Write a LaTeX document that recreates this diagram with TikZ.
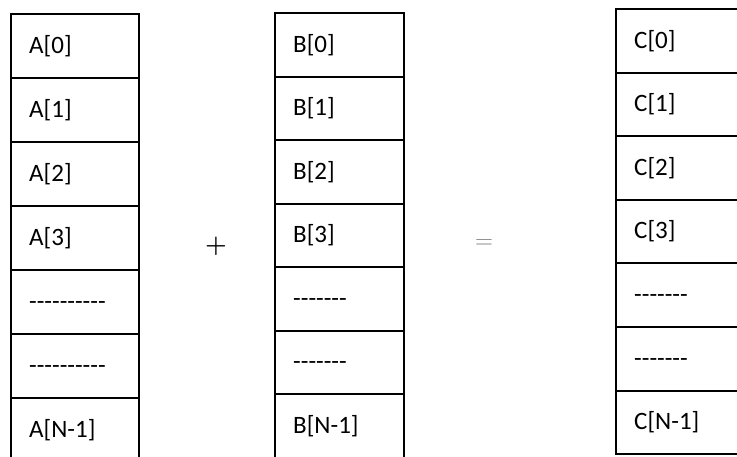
\documentclass[tikz,border=0pt]{standalone}
\usepackage{fontspec}
\newfontfamily\calib{Carlito}
\newcommand\mydashes[1]{\foreach \k in {1,...,#1}{-\kern0pt}}
\begin{document}
\begin{tikzpicture}[x=1pt,y=-1pt,
  cell/.style={draw, line width=2pt, inner sep=0pt, outer sep=0pt, anchor=north west},
  lab/.style={anchor=base west, inner sep=0pt, font=\calib\fontsize{25}{25}\selectfont},
  op/.style={inner sep=0pt, font=\fontsize{24}{24}\selectfont}]
\useasboundingbox (0,0) rectangle (737,456);
\clip (0,0) rectangle (737,456);
\fill[white] (0,0) rectangle (737,456);
\foreach \col/\x/\y/\h/\w/\nd in {A/11/14/64/128/10, B/275/13/63.5/129/7, C/616/9/63.6/130/7}{
  \foreach \i in {0,...,6}{
    \node[cell, minimum width=\w pt, minimum height=\h pt] (\col\i) at (\x,{\y+\i*\h}) {};
    \ifnum\i>3
      \ifnum\i<6 \def\txt{\mydashes{\nd}}\else\def\txt{\col[N-1]}\fi
    \else
      \def\txt{\col[\i]}%
    \fi
    \node[lab] (\col\i t) at ([shift={(18,39)}]\col\i.north west) {\txt};
  }
}
\node[op, font=\fontsize{24}{24}\selectfont\boldmath] (plus) at (216,246) {$+$};
\node[op, text=black!50] (eq) at (484,244) {$=$};
\end{tikzpicture}
\end{document}
